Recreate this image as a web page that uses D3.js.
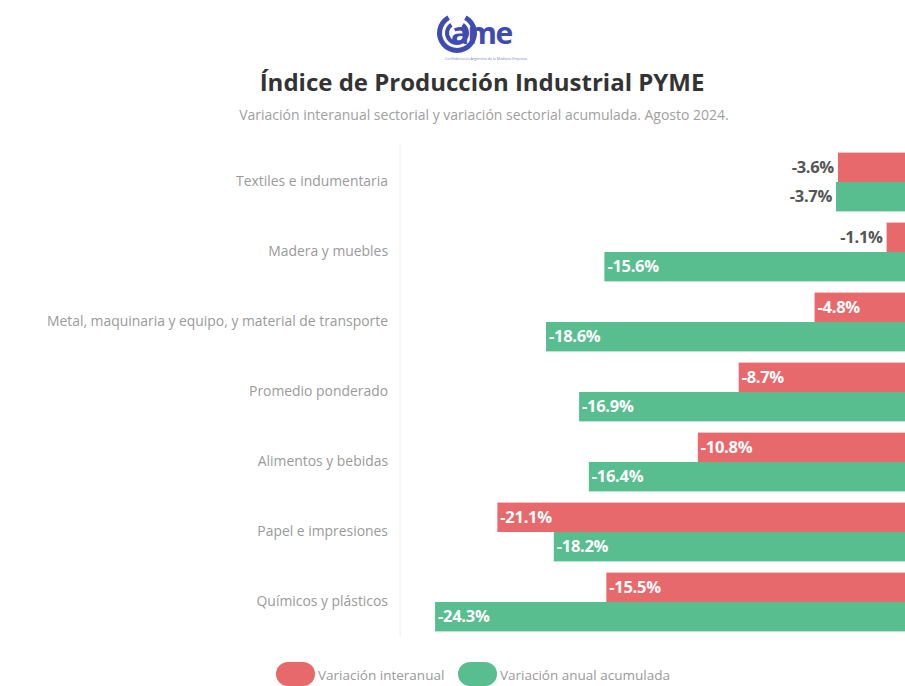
<!DOCTYPE html>
<html>
<head>
<meta charset="utf-8">
<script src="https://cdn.jsdelivr.net/npm/d3@7"></script>
<style>
  body { margin: 0; background: #fff; }
  svg { display: block; }
</style>
</head>
<body>
<svg></svg>
<script>
const CATEGORIES = [
  'Textiles e indumentaria',
  'Madera y muebles',
  'Metal, maquinaria y equipo, y material de transporte',
  'Promedio ponderado',
  'Alimentos y bebidas',
  'Papel e impresiones',
  'Químicos y plásticos',
];
const INTERANUAL = [-3.6, -1.1, -4.8, -8.7, -10.8, -21.1, -15.5];
const ACUMULADA = [-3.7, -15.6, -18.6, -16.9, -16.4, -18.2, -24.3];
const SERIES = ['Variación interanual', 'Variación anual acumulada'];
const COLORS = ['#e8696c', '#58bd8f'];

const WIDTH = 905;
const HEIGHT = 686;

const svg = d3.select('svg').attr('width', WIDTH).attr('height', HEIGHT);

// logo
const logo = svg.append('g').attr('transform', 'translate(437,12)');
logo.append('path')
  .attr('d', d3.arc().innerRadius(15).outerRadius(20).startAngle(0.5).endAngle(2 * Math.PI - 0.5)())
  .attr('transform', 'translate(20,21)')
  .attr('fill', '#3d4bb3');
logo.append('path')
  .attr('d', d3.arc().innerRadius(8).outerRadius(12).startAngle(0.6).endAngle(2 * Math.PI - 0.6)())
  .attr('transform', 'translate(20,21)')
  .attr('fill', '#3d4bb3');
logo.append('text')
  .attr('x', 14).attr('y', 32)
  .attr('font-family', 'Open Sans').attr('font-weight', 700).attr('font-size', 30)
  .attr('fill', '#3d4bb3').attr('letter-spacing', -1.5)
  .text('ame');
logo.append('text')
  .attr('x', 49).attr('y', 48).attr('text-anchor', 'middle')
  .attr('font-family', 'Open Sans').attr('font-size', 3.6).attr('fill', '#7b86c8')
  .text('Confederación Argentina de la Mediana Empresa');

svg.append('text')
  .attr('x', 482).attr('y', 91).attr('text-anchor', 'middle')
  .attr('font-family', 'Open Sans').attr('font-weight', 700).attr('font-size', 24)
  .attr('fill', '#333')
  .text('Índice de Producción Industrial PYME');

svg.append('text')
  .attr('x', 484).attr('y', 120).attr('text-anchor', 'middle')
  .attr('font-family', 'Open Sans').attr('font-size', 14)
  .attr('fill', '#a0a0a0')
  .text('Variación interanual sectorial y variación sectorial acumulada. Agosto 2024.');

const x = d3.scaleLinear().domain([-26, 0]).range([402, 908]);
const y = d3.scaleBand().domain(CATEGORIES).range([147, 637]).paddingInner(0.16).paddingOuter(0.08);
const ySub = d3.scaleBand().domain(SERIES).range([0, y.bandwidth()]);

// axis line + category labels
const yAxis = svg.append('g')
  .attr('transform', 'translate(400,0)')
  .call(d3.axisLeft(y).tickSize(0).tickPadding(12).tickSizeOuter(0));
yAxis.select('.domain').attr('stroke', '#f0f0f0').attr('d', 'M0,143V637');
yAxis.selectAll('text')
  .attr('font-family', 'Open Sans').attr('font-size', 13.9).attr('fill', '#9a9a9a');

const rows = CATEGORIES.map((c, i) => ({ cat: c, vals: [INTERANUAL[i], ACUMULADA[i]] }));

const groups = svg.selectAll('.grp')
  .data(rows)
  .enter()
  .append('g')
  .classed('grp', true)
  .attr('transform', d => `translate(0,${y(d.cat)})`);

const bars = groups.selectAll('.bar')
  .data(d => d.vals.map((v, j) => ({ s: SERIES[j], v, j })))
  .enter();

bars.append('rect')
  .classed('bar', true)
  .attr('x', d => x(d.v))
  .attr('y', d => ySub(d.s))
  .attr('width', d => x(0) - x(d.v))
  .attr('height', ySub.bandwidth())
  .attr('fill', d => COLORS[d.j]);

bars.append('text')
  .attr('x', d => (x(0) - x(d.v) > 85 ? x(d.v) + 3 : x(d.v) - 4))
  .attr('y', d => ySub(d.s) + ySub.bandwidth() / 2)
  .attr('dy', '0.35em')
  .attr('text-anchor', d => (x(0) - x(d.v) > 85 ? 'start' : 'end'))
  .attr('font-family', 'Open Sans').attr('font-weight', 700).attr('font-size', 16.5)
  .attr('letter-spacing', -0.3)
  .attr('fill', d => (x(0) - x(d.v) > 85 ? '#fff' : '#555'))
  .text(d => d.v.toFixed(1) + '%');

// legend
const legend = svg.append('g').attr('transform', 'translate(276,662)');
const legX = [0, 182];
SERIES.forEach((s, i) => {
  legend.append('rect')
    .attr('x', legX[i]).attr('y', 0)
    .attr('width', 39).attr('height', 24).attr('rx', 12)
    .attr('fill', COLORS[i]);
  legend.append('text')
    .attr('x', legX[i] + 42).attr('y', 13).attr('dy', '0.35em')
    .attr('font-family', 'Open Sans').attr('font-size', 13.5)
    .attr('fill', '#9a9a9a')
    .text(s);
});
</script>
</body>
</html>
